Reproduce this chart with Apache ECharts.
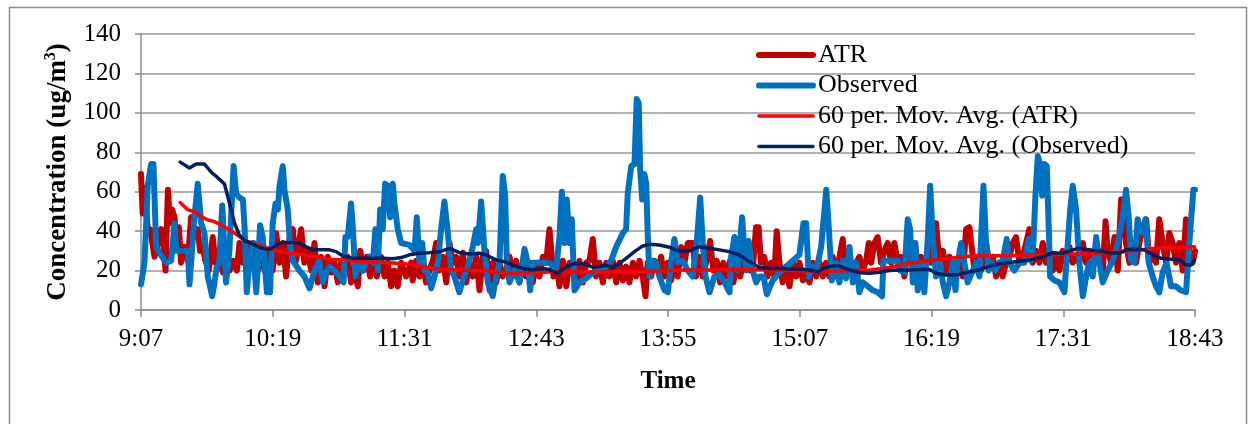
<!DOCTYPE html>
<html>
<head>
<meta charset="utf-8">
<script src="https://cdn.jsdelivr.net/npm/echarts@6/dist/echarts.min.js"></script>
<style>
html,body{margin:0;padding:0;background:#fff;}
#chart{width:1252px;height:424px;}
</style>
</head>
<body>
<div id="chart"></div>
<script>
// Tick labels (x axis every 72 minutes from 9:07)
const timeLabels = ['9:07','10:19','11:31','12:43','13:55','15:07','16:19','17:31','18:43'];
const yTicks = [0,20,40,60,80,100,120,140];
const seriesNames = ['ATR','Observed','60 per. Mov. Avg. (ATR)','60 per. Mov. Avg. (Observed)'];

// ATR (minutes after 9:07, concentration)
const atrT = [0,0.9,1.9,3.7,5,7.4,9.2,11,11.9,13.4,14.7,15.9,17,18.3,19.2,20.7,21.9,23.8,25.6,27.4,29.2,31,32.3,33.8,35.2,37,39.2,40.7,42.5,44.7,46.5,48.4,50.2,52.4,53.8,55.7,57.5,59.7,61.5,63.3,65.7,67.5,69.3,
72,73.9,75.7,77.5,79.3,81.2,83,84.4,85.7,87.5,89.3,91.1,93,94.8,96.6,98.4,100.3,102.1,103.9,105.7,107.6,109.4,111.2,113,114.8,116.7,118.5,119.8,121.6,123.4,125.2,127.1,128.9,131.2,133.1,134.9,136.7,138.5,140.3,142.2,144.9,147.6,
148.5,150.3,152.2,154,155.8,157.6,159.5,161.3,163.1,164.9,166.8,168.6,170.4,172.2,174,175.9,177.7,179.5,181.3,183.2,185,186.8,188.6,190.5,192.3,194.1,195.9,197.7,199.6,201.4,203.2,205,206.8,208.7,210.5,212.3,214.1,215.9,217.8,219.6,221.4,223.2,
225.4,226.9,228.7,230.5,232.4,234.2,236,237.8,239.6,241.5,243.3,245.1,246.9,248.7,250.5,252.4,254.2,256,257.8,259.7,261.5,263.3,265.1,266.9,268.8,270.6,272.4,274.2,275.7,276.9,278.8,280.6,282.4,284.2,286.1,287.9,289.7,291.5,293.3,295.2,297,298.8,
301.5,303.3,305.2,307,308.8,311,312.8,314.6,316.4,318.2,320.1,321.9,323.7,325.5,327.4,329.2,331,332.8,334.6,336.1,337.5,338.8,340.6,342.4,344.3,346.1,347.4,348.9,350.7,352.6,354.4,356.2,358,359.8,361.7,363.5,365.3,367.1,369,370.8,372.6,374.4,376.2,
378,379.9,381.7,383.5,385.3,387.2,389,390.8,392.6,394.4,396.3,397.7,399,400.8,402.6,404.4,406.3,408.1,409.9,411.7,413.6,415.4,417.2,419,420.8,422.7,424.5,426.3,428.1,430,431.8,433.1,434.5,436.3,438.2,440,441.8,443.6,445.5,447.3,449.1,450.9,452.7,
455.5,457.3,459.1,461.8,463.6,465.5,467.3,469.1,470.9,472.8,474.6,476.4,478.2,480.1,481.9,483.7,485.5,487.3,489.2,491,492.8,494.6,496.4,498.3,500.1,501.9,503.7,505.6,507.4,509.2,511,512.8,514.7,516.5,518.3,
520.1,522,523.8,525.6,527.1,528.3,530.2,532,533.8,535.6,536.9,538.3,540.2,542,543.8,545.6,547.4,549.3,551.1,552.9,554.7,556.5,558.3,560.2,562,563.8,565.6,567.4,569.3,571.1,572.9,574.7,576];
const atrV = [69,49,62,41,41,27,34,41,36,20,61,44,51,47,37,42,24,32,25,47,37,41,30,32,25,20,37,24,30,19,27,20,25,20,34,24,34,25,34,17,32,20,30,
20,39,24,34,17,37,41,24,30,41,24,30,20,34,14,27,12,27,19,24,14,25,20,27,14,20,12,30,20,27,17,24,17,27,17,24,12,20,12,24,17,24,
15,25,17,24,14,20,25,34,20,27,14,34,24,27,17,29,14,24,17,27,10,27,30,10,24,14,24,17,20,27,17,25,14,24,17,24,14,24,17,27,24,41,
17,24,12,25,12,24,20,14,25,14,24,25,36,17,24,14,24,17,25,14,24,15,22,14,24,17,25,17,7,24,17,25,20,27,17,24,15,24,17,32,24,34,
34,17,27,17,24,35,20,25,14,24,17,25,14,24,17,24,30,20,24,42,42,24,27,17,24,17,40,24,14,22,12,24,17,24,15,20,14,24,17,24,17,24,17,
27,17,27,36,17,27,17,24,27,20,25,34,24,34,37,24,30,34,24,34,24,27,17,30,24,34,24,27,20,27,24,44,44,24,30,20,27,17,24,27,17,41,42,
20,27,20,34,24,27,17,24,17,24,27,34,37,24,27,34,41,24,30,24,34,24,30,20,27,20,30,24,32,24,27,24,34,24,30,
27,24,30,20,45,30,24,37,20,56,47,34,24,34,24,34,41,46,24,30,24,46,34,24,39,34,24,34,20,46,27,24,30];

// Observed
const obsT = [0,1.9,3.7,5.5,6.8,8.3,10.1,13.8,16.5,18.3,19.3,22.8,25.6,26.5,27.4,29.2,31,32.9,34.7,36.5,38.9,40.2,41.4,42.8,44.4,45.6,46.5,48.3,50.6,52,53.8,55.7,56.6,57.8,59.3,61.2,63,65.1,66.5,68.8,70.5,
72,73.5,74.8,75.7,77.5,78.4,80.2,81.5,83,86.6,89.3,92.1,94.8,97.5,99.4,101.2,103,105.7,108.5,110.7,111.7,113,114.8,115.8,117.2,118.5,121.2,123,124.9,126.7,128.1,129.4,130.7,132.1,133.4,134.9,136.2,137.6,138.5,140.3,142.2,146.7,
149.5,150.7,152.2,153.7,154.9,156.7,158.6,160.4,162.2,164,165.8,167.7,169.5,171.3,174,175.9,178.6,181.3,183.2,184.1,185.9,187.7,189.5,192.2,194.1,195.9,197.7,199,199.9,201.4,204.1,206.8,209.6,211.4,212.7,214.1,216.8,223.2,
226.9,228.7,230,231.4,232.7,234.2,235.4,236.9,239.6,243.3,246.9,250.5,254.2,256.9,259.7,263.3,265.1,266,267.9,269.7,270.9,272,272.8,273.9,275.1,276.1,276.9,277.9,279.7,281.5,283.3,286.1,287.9,289.7,291.5,293.3,296.1,298.8,
301.5,303.7,305.6,307,308.5,310.7,313.4,316.1,318.9,321.6,322.5,324.3,326.1,328.5,329.8,330.7,332.1,334.3,336.2,338,340.2,342,345.2,348.9,352.6,356.2,359.8,362,363.5,364.9,366.8,369,371.7,374.5,376,377.5,
379.9,381.7,383.5,385.3,387.2,389,390.8,392.6,394.4,397.2,399.9,402.6,405,405.7,408.1,410.8,413.6,414.9,417.2,419,420.3,421.8,423.2,424.5,426.3,428.1,430,431.3,432.7,434.5,436.7,438.2,440,441.8,443.6,445.1,446.3,448.2,450,451.8,
454.6,456.4,458.2,460.4,461.8,463.3,465.1,466.9,469.1,470.9,473.1,474.6,477.3,480.1,482.8,485.1,486.4,487.7,488.8,490.1,491.4,492.5,493.7,495,496.1,496.8,499.2,501.9,504.6,506.5,507.8,509.2,511,512.8,514.7,516.5,518.3,520.1,
522,523.8,525.6,528.3,531.1,533.8,536.5,538.3,539.8,541.1,542.9,544.7,546,547.4,548.9,550.7,552.9,554.7,556.5,558.3,560.5,562.9,565.6,568.3,571.1,572.9,575.1,576];
const obsV = [13,24,63,74,74,32,29,24,25,44,30,30,30,13,13,47,64,44,39,17,7,14,22,24,53,30,14,30,73,59,57,56,42,9,25,34,9,43,37,9,9,
44,54,51,63,73,61,51,32,25,20,17,11,20,25,14,19,22,20,17,14,37,37,54,41,17,24,20,24,27,24,41,20,51,41,64,63,47,64,54,41,34,33,
30,47,24,34,20,19,11,17,24,41,55,39,20,17,9,15,22,32,41,34,55,30,14,7,17,24,68,58,25,14,20,14,31,24,10,24,24,24,
21,37,60,34,56,34,46,10,14,16,19,20,22,25,32,39,41,59,73,74,107,105,71,56,69,64,39,17,25,24,17,10,9,24,36,24,25,20,
17,34,57,34,17,9,17,18,14,9,27,37,20,47,30,20,35,20,14,17,17,8,15,19,22,25,28,44,44,17,22,20,32,61,40,15,
24,14,25,16,32,14,24,9,14,12,10,9,7,25,25,25,25,20,19,46,41,14,34,10,24,9,37,63,37,17,24,14,7,14,24,10,24,34,24,14,
20,24,17,63,34,20,24,20,24,25,36,24,20,24,24,36,25,34,58,78,74,58,74,73,41,17,15,14,9,34,51,63,51,24,7,17,24,17,
37,24,14,20,25,34,47,61,47,25,24,46,41,39,46,24,17,12,9,19,24,12,12,10,9,34,61,61];

// 60 per. Mov. Avg. (ATR)
const maAtrT = [21.4,25.6,29.2,32.9,36.5,40.1,43.8,48.4,52,56.6,61.2,66.6,73,75.7,81.2,88.5,95.8,103,110.3,117.6,124.9,132.1,139.4,146.7,152.2,159.5,166.8,174,181.3,188.6,195.9,203.2,210.5,217.8,225.1,241.5,259.7,277.9,296.1,317.9,336.1,354.4,372.6,387.2,398.1,409,420,430.9,441.8,455.5,470.9,489.2,507.4,518.3,536.5,554.7,575.8];
const maAtrV = [54.5,50.8,49.9,47.4,45.7,44.8,43.1,40.6,38.4,35.5,33.8,32.1,30.5,29.6,28.8,27.9,27,25.7,25.4,24.9,24.5,24.2,23.7,23.2,22.3,21.1,20.6,20.3,20,20,18.9,18.6,18.9,18.9,19.5,19.3,19.3,19.6,20.3,20.3,20.6,20,19.5,20,20.3,21.6,23.7,25,26.2,27.5,27.5,27.9,28.4,28.5,29.6,31.3,32.1];

// 60 per. Mov. Avg. (Observed)
const maObsT = [21.4,26.5,30.1,34.7,38.3,42,45.6,48.4,51.1,53.8,56.6,60.2,63.8,67.5,71.1,73.9,77.5,81.2,86.6,90.3,94,97.5,103,106.6,110.3,115.8,121.2,126.7,132.1,137.6,142.2,146.7,152.2,157.6,163.1,168.6,174,179.5,185,188.6,194.1,198.7,203.2,208.7,214.1,219.6,223.2,227.8,232.4,237.8,243.3,246.9,250.5,254.2,257.8,261.5,265.1,269.7,274.2,277.9,283.3,288.8,294.2,299.7,305.2,310.7,316.1,321.6,327.1,332.6,338,343.5,349,354.4,359.8,365.3,369.9,374.4,379,381.7,387.2,392.6,398.1,403.6,409,414.5,420,425.4,430.9,434.5,440,445.5,450.9,455.5,458.2,463.6,470.9,478.2,485.5,492.8,498.3,503.7,509.2,512.8,518.3,523.8,529.2,534.7,538.3,543.8,548.4,552.9,557.5,563,567.6,571.3,574,575.8];
const maObsV = [75,72,74,74,70,67,64,54,44,38,35,34,32,31,31,33,34.3,34.3,33.8,32.1,30.5,30.5,30.5,29.6,27.4,26.2,26.2,26.2,26.2,26,26.6,28,28.8,29.1,29.6,31.3,29.1,28.4,28.8,27.9,25.4,24.5,22.8,21.1,20.3,21.1,20.5,18.6,22,23.7,23.2,21.6,22,22.8,21.6,23.7,26.2,29.6,32.5,33.3,33,31.8,29.9,30,32.1,31.3,30.5,29.6,27.9,24.5,21.6,21.1,21.1,20.8,20.8,20.3,19.5,21.6,22.5,22.3,20.3,18.9,18.6,19.1,20,20.3,20.3,20.6,20.6,18.6,17.8,17.8,18.9,20,20.3,22.3,23.7,24.5,25.4,27,29.1,28.8,30.5,31.3,30.5,29.8,29.1,28.8,30.5,30.8,30.5,27.9,26.2,25.7,25.4,22.8,22.8,25.4];

const zip = (t, v) => t.map((x, i) => [x, v[i]]);
const FONT = "'Liberation Serif','Times New Roman',serif";
const colors = ['#C00000', '#0070C0', '#FF0000', '#002060'];
const widths = [6, 6, 3.5, 3.5];

const chart = echarts.init(document.getElementById('chart'), null, {renderer: 'canvas'});
const lineSeries = (i, t, v, z) => ({
  name: seriesNames[i], type: 'line', data: zip(t, v), showSymbol: false, symbol: 'none',
  smooth: false, z,
  lineStyle: {color: colors[i], width: widths[i], cap: 'round', join: 'round'},
  itemStyle: {color: colors[i]},
  emphasis: {disabled: true}
});

chart.setOption({
  backgroundColor: '#fff',
  animation: false,
  graphic: [{
    type: 'rect', left: 7, top: 5, z: -10,
    shape: {x: 0, y: 0, width: 1237, height: 440},
    style: {fill: 'none', stroke: '#8c8c8c', lineWidth: 1.5}
  }],
  grid: {left: 141, right: 57, top: 34, bottom: 114, containLabel: false},
  legend: {
    orient: 'vertical', left: 751, top: 37,
    itemWidth: 54, itemHeight: 12, itemGap: 4.5,
    itemStyle: {opacity: 0},
    textStyle: {fontFamily: FONT, fontSize: 26, color: '#000', lineHeight: 26},
    data: seriesNames.map((n, i) => ({
      name: n,
      lineStyle: {color: colors[i], width: widths[i], cap: 'round'}
    }))
  },
  xAxis: {
    type: 'value', min: 0, max: 576, interval: 72,
    name: 'Time', nameLocation: 'middle', nameGap: 59,
    nameTextStyle: {fontFamily: FONT, fontSize: 25, fontWeight: 'bold', color: '#000'},
    axisLine: {show: true, onZero: false, lineStyle: {color: '#8c8c8c', width: 1.5}},
    axisTick: {show: true, length: 7, lineStyle: {color: '#8c8c8c', width: 1.5}},
    axisLabel: {fontFamily: FONT, fontSize: 25, color: '#000', margin: 17,
      formatter: v => timeLabels[Math.round(v / 72)]},
    splitLine: {show: false}
  },
  yAxis: {
    type: 'value', min: yTicks[0], max: yTicks[yTicks.length - 1], interval: 20,
    name: 'Concentration (ug/m{sup|3})', nameLocation: 'middle', nameRotate: 90, nameGap: 60,
    nameTextStyle: {fontFamily: FONT, fontSize: 27, fontWeight: 'bold', color: '#000', lineHeight: 30,
      rich: {sup: {fontFamily: FONT, fontSize: 16, fontWeight: 'bold', color: '#000', verticalAlign: 'top', lineHeight: 15}}},
    axisLine: {show: true, lineStyle: {color: '#8c8c8c', width: 1.5}},
    axisTick: {show: true, length: 6, lineStyle: {color: '#8c8c8c', width: 1.5}},
    axisLabel: {fontFamily: FONT, fontSize: 25, color: '#000', margin: 20},
    splitLine: {show: true, lineStyle: {color: '#999999', width: 1.5}}
  },
  series: [
    lineSeries(0, atrT, atrV, 2),
    lineSeries(1, obsT, obsV, 3),
    lineSeries(2, maAtrT, maAtrV, 4),
    lineSeries(3, maObsT, maObsV, 5)
  ]
});
</script>
</body>
</html>
